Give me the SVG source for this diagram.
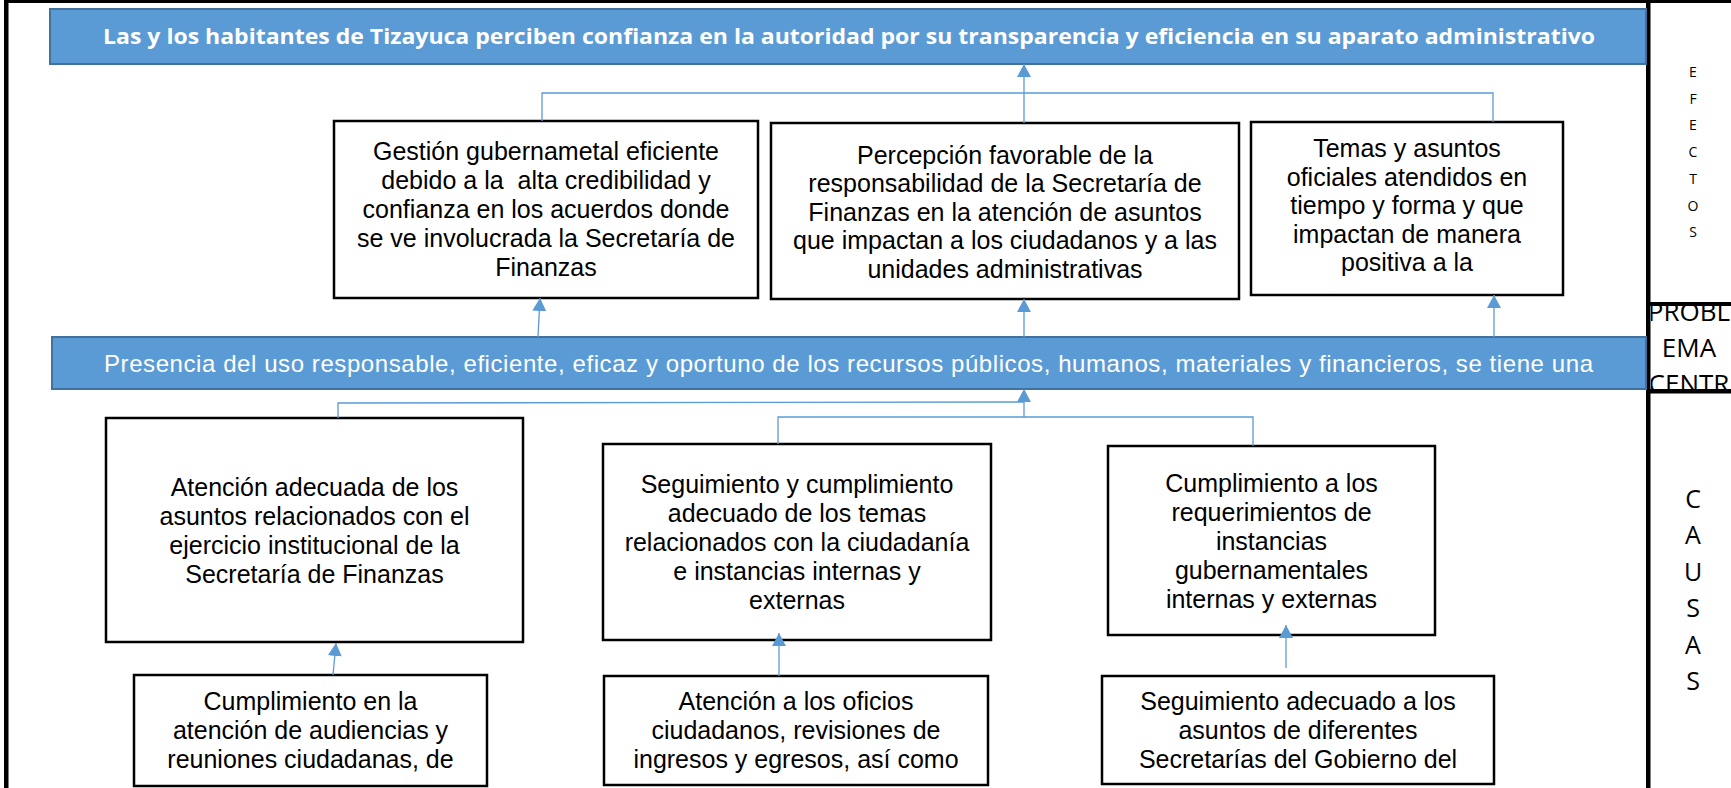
<svg xmlns="http://www.w3.org/2000/svg" width="1731" height="788" viewBox="0 0 1731 788">
<defs>
<style>
.bar{fill:#5b9bd5;stroke:#41719c;stroke-width:2}
.box{fill:#ffffff;stroke:#000000;stroke-width:2.5}
.t{font-family:"Liberation Sans",Arial,sans-serif;font-size:25px;fill:#000000;text-anchor:middle}
.bt{font-family:"Liberation Sans",Arial,sans-serif;font-size:24px;fill:#ffffff}
.tt{font-family:"Open Sans","Liberation Sans",sans-serif;font-size:20.5px;font-weight:bold;fill:#ffffff}
.side{font-family:"Open Sans","Liberation Sans",sans-serif;fill:#000000;text-anchor:middle}
.c{fill:none;stroke:#5b9bd5;stroke-width:1.3}
.frame{fill:#000000}
</style>
<marker id="ah" viewBox="0 0 13 14" refX="13" refY="7" markerWidth="13" markerHeight="14" markerUnits="userSpaceOnUse" orient="auto">
<path d="M0,0 L13,7 L0,14 z" fill="#5b9bd5"/>
</marker>
<clipPath id="pc"><rect x="1651" y="306" width="80" height="84"/></clipPath>
</defs>
<rect width="1731" height="788" fill="#ffffff"/>
<g id="frame">
<rect class="frame" x="4" y="0" width="1727" height="3"/>
<rect class="frame" x="4" y="0" width="4.5" height="788"/>
<rect class="frame" x="1646" y="0" width="4.5" height="788"/>
<rect class="frame" x="1646" y="302" width="85" height="4"/>
<rect class="frame" x="1646" y="389" width="85" height="4.5"/>
</g>
<g id="efectos">
<text class="side" font-size="14" x="1693" y="77">E</text>
<text class="side" font-size="14" x="1693" y="103.7">F</text>
<text class="side" font-size="14" x="1693" y="130.4">E</text>
<text class="side" font-size="14" x="1693" y="157.1">C</text>
<text class="side" font-size="14" x="1693" y="183.8">T</text>
<text class="side" font-size="14" x="1693" y="210.5">O</text>
<text class="side" font-size="14" x="1693" y="237.2">S</text>
</g>
<g id="problema" clip-path="url(#pc)">
<text class="side" font-size="26" x="1689" y="321">PROBL</text>
<text class="side" font-size="26" x="1689" y="357">EMA</text>
<text class="side" font-size="26" x="1689" y="393">CENTR</text>
</g>
<g id="causas">
<text class="side" font-size="25" x="1693" y="508">C</text>
<text class="side" font-size="25" x="1693" y="544.4">A</text>
<text class="side" font-size="25" x="1693" y="580.8">U</text>
<text class="side" font-size="25" x="1693" y="617.2">S</text>
<text class="side" font-size="25" x="1693" y="653.6">A</text>
<text class="side" font-size="25" x="1693" y="690">S</text>
</g>
<g id="fin">
<rect class="bar" x="50" y="9" width="1596" height="55"/>
<text class="tt" x="103" y="44" textLength="1492" lengthAdjust="spacingAndGlyphs">Las y los habitantes de Tizayuca perciben confianza en la autoridad por su transparencia y eficiencia en su aparato administrativo</text>
</g>
<g id="efecto1">
<rect class="box" x="334" y="121" width="424" height="177"/>
<text class="t" x="546" y="160">Gestión gubernametal eficiente</text>
<text class="t" x="546" y="189" xml:space="preserve">debido a la  alta credibilidad y</text>
<text class="t" x="546" y="218">confianza en los acuerdos donde</text>
<text class="t" x="546" y="247">se ve involucrada la Secretaría de</text>
<text class="t" x="546" y="276">Finanzas</text>
</g>
<g id="efecto2">
<rect class="box" x="771" y="123" width="468" height="176"/>
<text class="t" x="1005" y="163.5">Percepción favorable de la</text>
<text class="t" x="1005" y="192">responsabilidad de la Secretaría de</text>
<text class="t" x="1005" y="220.5">Finanzas en la atención de asuntos</text>
<text class="t" x="1005" y="249">que impactan a los ciudadanos y a las</text>
<text class="t" x="1005" y="277.5">unidades administrativas</text>
</g>
<g id="efecto3">
<rect class="box" x="1251" y="122" width="312" height="173"/>
<text class="t" x="1407" y="157">Temas y asuntos</text>
<text class="t" x="1407" y="185.5">oficiales atendidos en</text>
<text class="t" x="1407" y="214">tiempo y forma y que</text>
<text class="t" x="1407" y="242.5">impactan de manera</text>
<text class="t" x="1407" y="271">positiva a la</text>
</g>
<g id="problema-central">
<rect class="bar" x="52" y="337" width="1594" height="52"/>
<text class="bt" x="104" y="372" textLength="1489" lengthAdjust="spacing">Presencia del uso responsable, eficiente, eficaz y oportuno de los recursos públicos, humanos, materiales y financieros, se tiene una</text>
</g>
<g id="causa1">
<rect class="box" x="106" y="418" width="417" height="224"/>
<text class="t" x="314.5" y="496">Atención adecuada de los</text>
<text class="t" x="314.5" y="525">asuntos relacionados con el</text>
<text class="t" x="314.5" y="554">ejercicio institucional de la</text>
<text class="t" x="314.5" y="583">Secretaría de Finanzas</text>
</g>
<g id="causa2">
<rect class="box" x="603" y="444" width="388" height="196"/>
<text class="t" x="797" y="493">Seguimiento y cumplimiento</text>
<text class="t" x="797" y="522">adecuado de los temas</text>
<text class="t" x="797" y="551">relacionados con la ciudadanía</text>
<text class="t" x="797" y="580">e instancias internas y</text>
<text class="t" x="797" y="609">externas</text>
</g>
<g id="causa3">
<rect class="box" x="1108" y="446" width="327" height="189"/>
<text class="t" x="1271.5" y="492">Cumplimiento a los</text>
<text class="t" x="1271.5" y="521">requerimientos de</text>
<text class="t" x="1271.5" y="550">instancias</text>
<text class="t" x="1271.5" y="579">gubernamentales</text>
<text class="t" x="1271.5" y="608">internas y externas</text>
</g>
<g id="subcausa1">
<rect class="box" x="134" y="675" width="353" height="111"/>
<text class="t" x="310.5" y="710">Cumplimiento en la</text>
<text class="t" x="310.5" y="739">atención de audiencias y</text>
<text class="t" x="310.5" y="768">reuniones ciudadanas, de</text>
</g>
<g id="subcausa2">
<rect class="box" x="604" y="676" width="384" height="109"/>
<text class="t" x="796" y="710">Atención a los oficios</text>
<text class="t" x="796" y="739">ciudadanos, revisiones de</text>
<text class="t" x="796" y="768">ingresos y egresos, así como</text>
</g>
<g id="subcausa3">
<rect class="box" x="1102" y="676" width="392" height="108"/>
<text class="t" x="1298" y="710">Seguimiento adecuado a los</text>
<text class="t" x="1298" y="739">asuntos de diferentes</text>
<text class="t" x="1298" y="768">Secretarías del Gobierno del</text>
</g>
<g id="connectors">
<polyline class="c" points="542,121 542,93 1493,93 1493,122"/>
<line class="c" x1="1024" y1="123" x2="1024" y2="64" marker-end="url(#ah)"/>
<line class="c" x1="538" y1="337" x2="540" y2="298" marker-end="url(#ah)"/>
<line class="c" x1="1024" y1="337" x2="1024" y2="299" marker-end="url(#ah)"/>
<line class="c" x1="1494" y1="337" x2="1494" y2="295" marker-end="url(#ah)"/>
<line class="c" x1="1024" y1="417" x2="1024" y2="389" marker-end="url(#ah)"/>
<polyline class="c" points="338,418 338,403 1024,402"/>
<polyline class="c" points="778,444 778,417 1253,417 1253,446"/>
<line class="c" x1="333" y1="675" x2="336" y2="643" marker-end="url(#ah)"/>
<line class="c" x1="779" y1="676" x2="779" y2="633" marker-end="url(#ah)"/>
<line class="c" x1="1286" y1="668" x2="1286" y2="625" marker-end="url(#ah)"/>
</g>
</svg>
